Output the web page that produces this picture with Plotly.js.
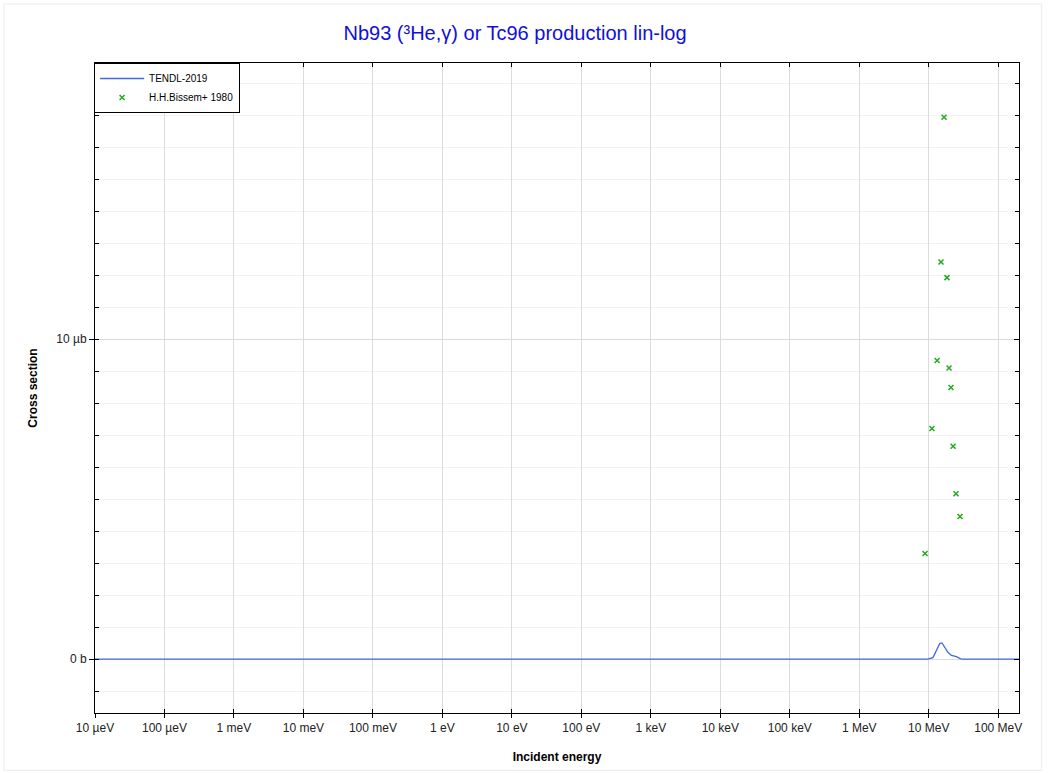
<!DOCTYPE html>
<html>
<head>
<meta charset="utf-8">
<script src="https://cdn.plot.ly/plotly-3.0.1.min.js"></script>
<style>html,body{margin:0;padding:0;background:#fff;}#chart{width:1049px;height:773px;}</style>
</head>
<body>
<div id="chart"></div>
<script>
// TENDL-2019 evaluated curve (energy in eV, cross section in barns)
const tendlE  = [1e-5, 9.66e6, 11.5e6, 12.9e6, 14.4e6, 15.5e6, 17.0e6, 19.0e6, 21.2e6, 25.0e6, 28.8e6, 30.5e6, 2e8];
const tendlXS = [0, 0, 0.05e-6, 0.28e-6, 0.49e-6, 0.51e-6, 0.38e-6, 0.21e-6, 0.12e-6, 0.08e-6, 0.01e-6, 0, 0];

// H.H.Bissem+ 1980 experimental points
const expE  = [8.85e6, 11.1e6, 13.2e6, 15.0e6, 16.6e6, 18.3e6, 19.6e6, 20.9e6, 22.4e6, 24.7e6, 28.2e6];
const expXS = [3.30e-6, 7.21e-6, 9.33e-6, 12.41e-6, 16.93e-6, 11.92e-6, 9.10e-6, 8.49e-6, 6.65e-6, 5.17e-6, 4.46e-6];

// Axis ticks
const xTickVals = [1e-5, 1e-4, 1e-3, 1e-2, 1e-1, 1, 10, 100, 1e3, 1e4, 1e5, 1e6, 1e7, 1e8];
const xTickText = ['10 µeV','100 µeV','1 meV','10 meV','100 meV','1 eV','10 eV','100 eV','1 keV','10 keV','100 keV','1 MeV','10 MeV','100 MeV'];
const yTickVals = [0, 1e-5];
const yTickText = ['0 b', '10 µb'];

const FONT = 'Liberation Sans, Arial, Helvetica, sans-serif';
const xRange = [-5, 8.299];
const yRange = [-1.68e-6, 18.625e-6];

const traces = [
  {x: tendlE, y: tendlXS, type: 'scatter', mode: 'lines', name: 'TENDL-2019',
   line: {color: '#4169e1', width: 1.3}},
  {x: expE, y: expXS, type: 'scatter', mode: 'markers', name: 'H.H.Bissem+ 1980',
   marker: {symbol: 'x-thin', size: 5, color: '#22aa22', line: {color: '#22aa22', width: 1.5}}},
  {x: [], y: [], xaxis: 'x2', yaxis: 'y2', type: 'scatter', mode: 'markers', showlegend: false, hoverinfo: 'skip'}
];

const L = 95, R = 1049 - 1019.3, T = 63, B = 773 - 712.7;
const pw = 1049 - L - R, ph = 773 - T - B;
const px = v => (v - L) / pw;
const py = v => (773 - B - v) / ph;

const layout = {
  width: 1049, height: 773,
  margin: {l: L, r: R, t: T, b: B, pad: 0},
  paper_bgcolor: '#ffffff', plot_bgcolor: '#ffffff',
  font: {family: FONT, size: 12, color: '#222'},
  showlegend: true,
  title: {text: 'Nb93 (³He,γ) or Tc96 production lin-log', font: {family: FONT, size: 20, color: '#1010d8'},
          x: 0.491, xref: 'container', xanchor: 'center', y: 1 - 33/773, yref: 'container', yanchor: 'middle'},
  xaxis: {type: 'log', range: xRange, tickvals: xTickVals, ticktext: xTickText,
          ticks: 'outside', ticklen: 4, tickcolor: '#000', showline: true, linecolor: '#000', linewidth: 1, mirror: true,
          showgrid: true, gridcolor: '#dcdcdc', gridwidth: 1, zeroline: false,
          tickfont: {family: FONT, size: 12, color: '#222'},
          title: {text: '<b>Incident energy</b>', font: {family: FONT, size: 12, color: '#000'}, standoff: 18}},
  xaxis2: {type: 'log', range: xRange, overlaying: 'x', anchor: 'y', side: 'bottom', tickvals: xTickVals,
           ticks: 'inside', ticklen: 4, tickcolor: '#000', showticklabels: false, showline: false, mirror: 'ticks',
           showgrid: false, zeroline: false},
  yaxis: {range: yRange, tickvals: yTickVals, ticktext: yTickText,
          ticks: 'outside', ticklen: 5, tickcolor: '#000', showline: true, linecolor: '#000', linewidth: 1, mirror: true,
          showgrid: true, gridcolor: '#dcdcdc', gridwidth: 1, zeroline: false,
          minor: {tick0: 0, dtick: 1e-6, ticks: 'inside', ticklen: 4, tickcolor: '#000', showgrid: true, gridcolor: '#f2f2f2', gridwidth: 1},
          tickfont: {family: FONT, size: 12, color: '#222'},
          title: {text: '<b>Cross section</b>', font: {family: FONT, size: 12, color: '#000'}, standoff: 16}},
  yaxis2: {range: yRange, overlaying: 'y', anchor: 'x', side: 'right', tickvals: yTickVals,
           ticks: 'inside', ticklen: 5, tickcolor: '#000', showticklabels: false, showline: false,
           showgrid: false, zeroline: false,
           minor: {tick0: 0, dtick: 1e-6, ticks: 'inside', ticklen: 4, tickcolor: '#000', showgrid: false}},
  legend: {x: -0.001, y: 1, xanchor: 'left', yanchor: 'top', bgcolor: '#ffffff', bordercolor: '#000', borderwidth: 1,
           font: {family: FONT, size: 10, color: '#000'}, tracegroupgap: 0, itemwidth: 44},
  shapes: [
    {type: 'rect', xref: 'paper', yref: 'paper', x0: px(4), x1: px(1042), y0: py(770), y1: py(4),
     line: {color: '#ececec', width: 1}, fillcolor: 'rgba(0,0,0,0)', layer: 'below'}
  ]
};

Plotly.newPlot('chart', traces, layout, {displayModeBar: false, staticPlot: true});
</script>
</body>
</html>
